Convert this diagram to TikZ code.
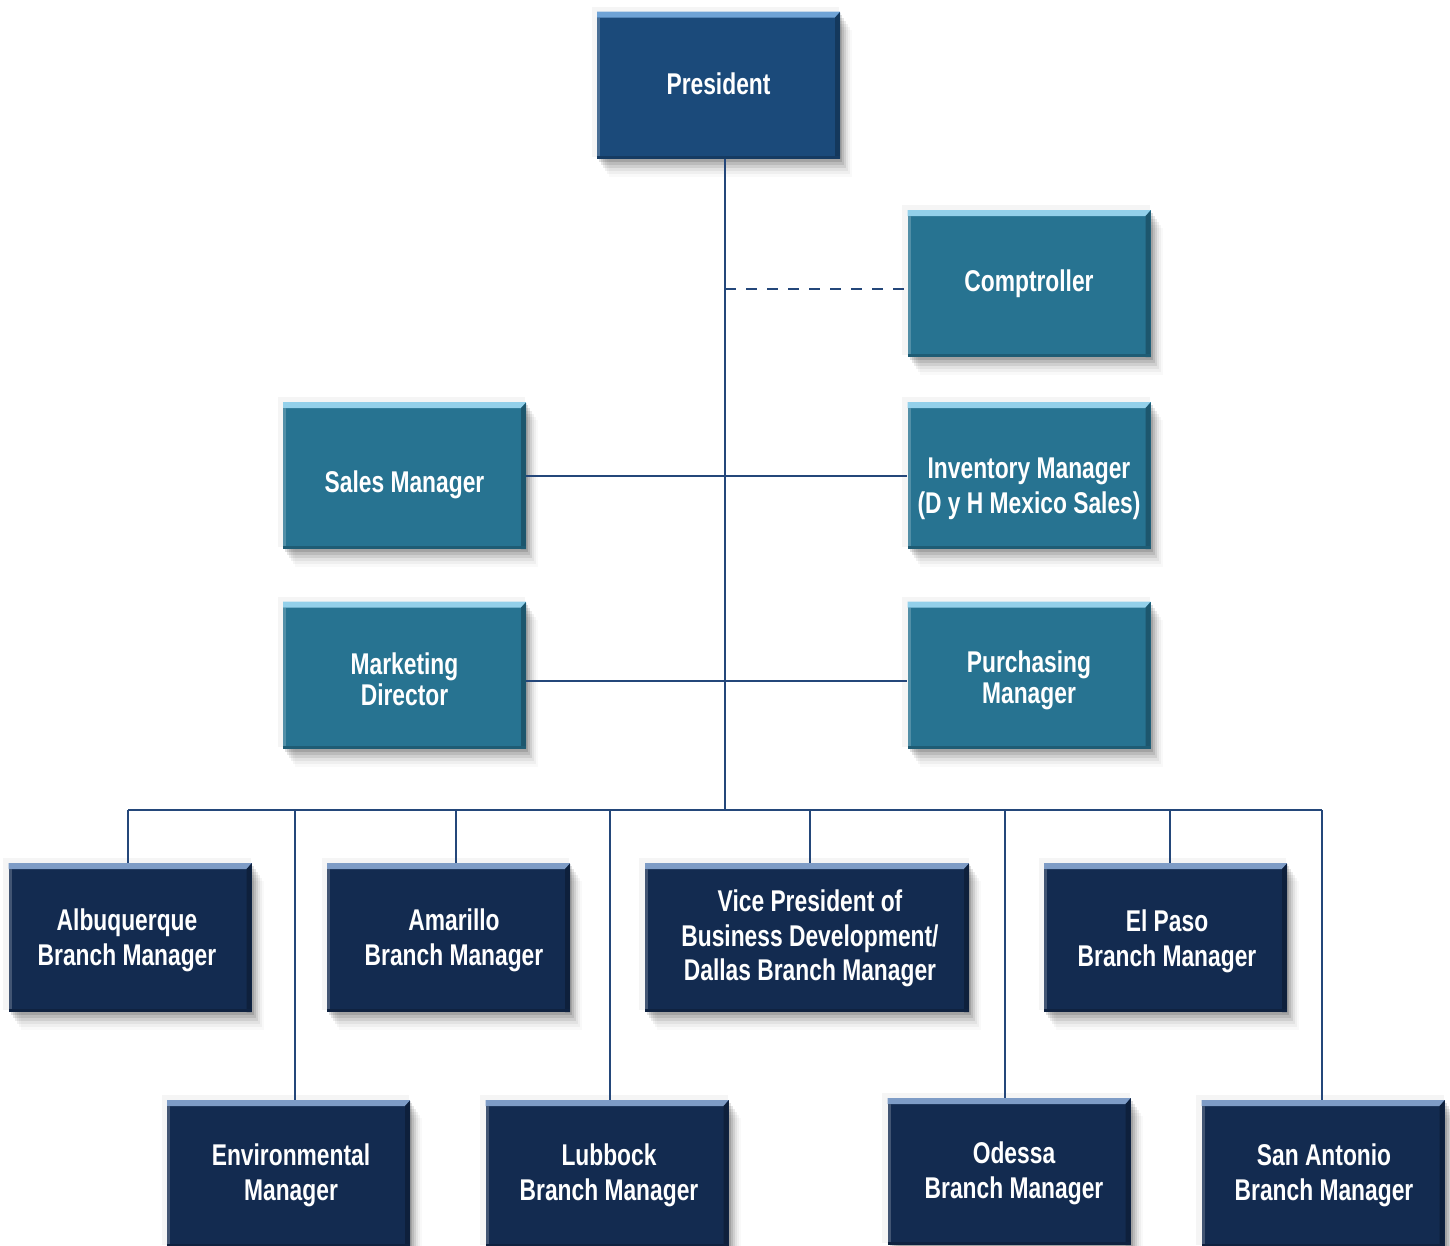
\documentclass[tikz,border=0pt]{standalone}
\usepackage{fontspec}
\setmainfont{Liberation Sans}[FakeStretch=0.76]
\usetikzlibrary{shadows}
\definecolor{presblue}{HTML}{1B4A7A}
\definecolor{preshi}{HTML}{6FA3D6}
\definecolor{midblue}{HTML}{277391}
\definecolor{midhi}{HTML}{93D0EA}
\definecolor{darkblue}{HTML}{132B50}
\definecolor{darkhi}{HTML}{7E9CC6}
\definecolor{linecol}{HTML}{24477A}
\tikzset{
  boxshadow/.style={
    general shadow={shadow xshift=-3pt, shadow yshift=3pt, fill=black, opacity=0.04, shadow scale=1.02},
    drop shadow={shadow xshift=2pt, shadow yshift=-3pt, fill=black, opacity=0.12},
    drop shadow={shadow xshift=4pt, shadow yshift=-6pt, fill=black, opacity=0.10},
    drop shadow={shadow xshift=6pt, shadow yshift=-9pt, fill=black, opacity=0.08},
    drop shadow={shadow xshift=8pt, shadow yshift=-12pt, fill=black, opacity=0.06},
    drop shadow={shadow xshift=10pt, shadow yshift=-15pt, fill=black, opacity=0.04},
    drop shadow={shadow xshift=12pt, shadow yshift=-18pt, fill=black, opacity=0.025}},
  boxbase/.style 2 args={boxshadow, fill=#1, inner sep=0pt,
    minimum width=243pt, minimum height=147pt,
    path picture={
      \fill[#2] (path picture bounding box.north west) -- (path picture bounding box.north east)
        -- ([xshift=-5pt,yshift=-6pt]path picture bounding box.north east)
        -- ([yshift=-6pt]path picture bounding box.north west) -- cycle;
      \fill[#1!75!black] ([yshift=-1pt]path picture bounding box.north east) -- ([xshift=-5pt,yshift=-6pt]path picture bounding box.north east)
        -- ([xshift=-5pt]path picture bounding box.south east) -- (path picture bounding box.south east) -- cycle;
      \fill[#1!80!white] ([yshift=-6pt]path picture bounding box.north west) rectangle ([xshift=3pt]path picture bounding box.south west);
      \fill[#1!80!black] (path picture bounding box.south west) rectangle ([yshift=3pt]path picture bounding box.south east);
    }},
  presbox/.style={boxbase={presblue}{preshi}},
  midbox/.style={boxbase={midblue}{midhi}},
  darkbox/.style={boxbase={darkblue}{darkhi}, minimum height=149pt},
  boxtext/.style={text=white, align=center, inner sep=0pt,
    font=\fontsize{30}{34.5}\selectfont\bfseries},
  tighttext/.style={boxtext, font=\fontsize{30}{31}\selectfont\bfseries},
  orgline/.style={draw=linecol, line width=2pt},
  dashline/.style={orgline, dash pattern=on 11pt off 10pt}
}
\begin{document}
\begin{tikzpicture}[x=1pt,y=-1pt]
\useasboundingbox (0,0) rectangle (1450,1245);
% boxes
\node[presbox] (pres) at (718.5,85) {};
\node[midbox] (comp) at (1029,283.5) {};
\node[midbox] (sales) at (404.5,475.5) {};
\node[midbox] (inv) at (1029,475.5) {};
\node[midbox] (mkt) at (404.5,675) {};
\node[midbox] (pur) at (1029,675) {};
\node[darkbox] (alb) at (130,937.5) {};
\node[darkbox] (ama) at (448.5,937.5) {};
\node[darkbox, minimum width=324pt] (vp) at (807,937.5) {};
\node[darkbox] (elp) at (1165.5,937.5) {};
\node[darkbox, minimum height=147pt] (env) at (288.5,1173.5) {};
\node[darkbox, minimum height=147pt] (lub) at (607,1173.5) {};
\node[darkbox, minimum height=147pt] (ode) at (1009,1171.5) {};
\node[darkbox, minimum height=147pt] (san) at (1323,1173.5) {};
% texts
\node[boxtext] (prest) at ([shift={(0,-1)}]pres.center) {President};
\node[boxtext] (compt) at (comp.center) {Comptroller};
\node[boxtext] (salest) at ([shift={(0,9)}]sales.center) {Sales Manager};
\node[boxtext] (invt) at ([shift={(0,13.5)}]inv.center) {Inventory Manager\\(D y H Mexico Sales)};
\node[tighttext] (mktt) at ([shift={(0,4)}]mkt.center) {Marketing\\Director};
\node[tighttext] (purt) at ([shift={(0,5)}]pur.center) {Purchasing\\Manager};
\node[boxtext] (albt) at ([shift={(-3,3)}]alb.center) {Albuquerque\\Branch Manager};
\node[boxtext] (amat) at ([shift={(5.5,3)}]ama.center) {Amarillo\\Branch Manager};
\node[boxtext] (vpt) at ([shift={(3,1)}]vp.center) {Vice President of\\Business Development/\\Dallas Branch Manager};
\node[boxtext] (elpt) at ([shift={(1.5,4)}]elp.center) {El Paso\\Branch Manager};
\node[boxtext] (envt) at ([shift={(2.5,2)}]env.center) {Environmental\\Manager};
\node[boxtext] (lubt) at ([shift={(2,2)}]lub.center) {Lubbock\\Branch Manager};
\node[boxtext] (odet) at ([shift={(5,2)}]ode.center) {Odessa\\Branch Manager};
\node[boxtext] (sant) at ([shift={(1,2)}]san.center) {San Antonio\\Branch Manager};
% coordinates
\coordinate (trunk) at (725,810);
\coordinate (dashy) at (725,289);
\coordinate (mky) at (725,681);
\coordinate (busl) at (128,810);
\coordinate (busr) at (1322,810);
\coordinate (dalb) at (128,810);
\coordinate (denv) at (295,810);
\coordinate (dama) at (456,810);
\coordinate (dlub) at (610,810);
\coordinate (dvp) at (810,810);
\coordinate (dode) at (1005,810);
\coordinate (delp) at (1170,810);
\coordinate (dsan) at (1322,810);
% connectors
\draw[orgline] (pres.south -| trunk) -- (trunk);
\draw[dashline] (dashy) -- (dashy -| comp.west);
\draw[orgline] (sales.east) -- (inv.west);
\draw[orgline] (mky -| mkt.east) -- (mky -| pur.west);
\draw[orgline] (busl) -- (busr);
\draw[orgline] (dalb) -- (dalb |- alb.north);
\draw[orgline] (denv) -- (denv |- env.north);
\draw[orgline] (dama) -- (dama |- ama.north);
\draw[orgline] (dlub) -- (dlub |- lub.north);
\draw[orgline] (dvp) -- (dvp |- vp.north);
\draw[orgline] (dode) -- (dode |- ode.north);
\draw[orgline] (delp) -- (delp |- elp.north);
\draw[orgline] (dsan) -- (dsan |- san.north);
\end{tikzpicture}
\end{document}
